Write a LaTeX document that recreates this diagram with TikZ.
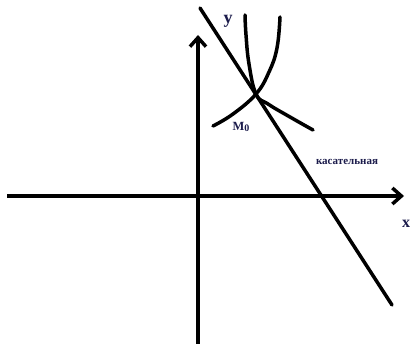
\documentclass[tikz,border=0pt]{standalone}
\usepackage{fontspec}
\setmainfont{Liberation Serif}
\usepackage{tikz}
\usetikzlibrary{arrows.meta}
\definecolor{tNavy}{HTML}{1B1B4B}

\begin{document}
\begin{tikzpicture}[
  x=1pt, y=-1pt,
  every node/.style={font=\bfseries, color=tNavy, inner sep=0pt},
  axisline/.style={line width=3.5pt, -{Straight Barb[length=9pt,width=16pt]}},
  curveline/.style={line width=3.5pt, line cap=round}
]
\useasboundingbox (0,0) rectangle (411,344);

% axes
\coordinate (xL) at (7,196);
\coordinate (xR) at (404,196);
\coordinate (yB) at (198,346);
\coordinate (yT) at (198,35);
\draw[axisline] (xL) -- (xR);
\draw[axisline] (yB) -- (yT);

% tangent and the two curves
\coordinate (tA) at (200,8);
\coordinate (tB) at (392,305);
\draw[curveline] (tA) -- (tB);
\draw[curveline] plot[smooth, tension=0.7] coordinates
  {(213,126) (233,114) (256,94) (269,72) (277,48) (280,17)};
\draw[curveline] plot[smooth, tension=0.7] coordinates
  {(245,15) (246,35) (249,64) (256,94) (268,104) (290,117) (313,130)};

\node[font=\bfseries\fontsize{18}{18}\selectfont] (ylab) at (228,21) {y};
\node[font=\bfseries\fontsize{16}{16}\selectfont] (xlab) at (406,224) {x};
\node[font=\bfseries\fontsize{12.5}{12}\selectfont] (mlab) at (241,127)
  {M\raisebox{-1.5pt}{\fontsize{10}{10}\selectfont 0}};
\node[font=\bfseries\fontsize{11}{11}\selectfont] (tlab) at (347,162) {касательная};
\end{tikzpicture}
\end{document}
